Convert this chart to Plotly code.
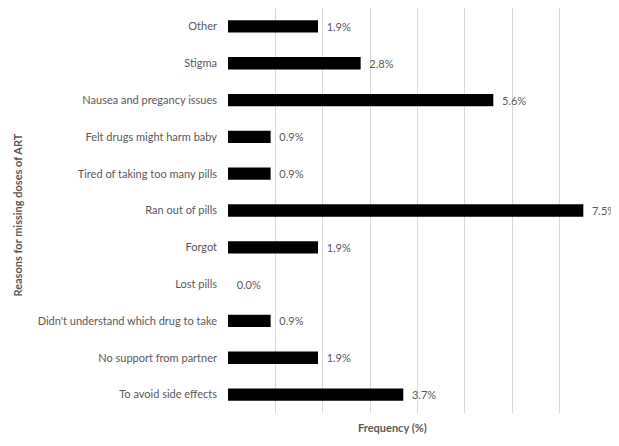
import plotly.graph_objects as go

# data (top to bottom as shown in the chart)
reasons = [
    "Other",
    "Stigma",
    "Nausea and pregancy issues",
    "Felt drugs might harm baby",
    "Tired of taking too many pills",
    "Ran out of pills",
    "Forgot",
    "Lost pills",
    "Didn't understand which drug to take",
    "No support from partner",
    "To avoid side effects",
]
freq = [1.9, 2.8, 5.6, 0.9, 0.9, 7.5, 1.9, 0.0, 0.9, 1.9, 3.7]

GREY = "#595959"
FONT = "Lato"

fig = go.Figure(go.Bar(
    x=freq, y=reasons, orientation="h",
    marker=dict(color="#000000", line=dict(width=0)),
    text=[f"\u00a0\u00a0{v:.1f}%" for v in freq],
    textposition="outside", cliponaxis=False, constraintext="none",
    textfont=dict(size=11, color=GREY, family=FONT),
    hovertemplate="%{y}: %{x:.1f}%<extra></extra>",
))

# page body adds an 8px offset, so margins are shifted by 8px
fig.update_layout(
    width=619, height=438,
    margin=dict(l=220, r=20, t=0, b=33, autoexpand=False),
    paper_bgcolor="white", plot_bgcolor="white",
    font=dict(family=FONT, size=11, color=GREY),
    bargap=0.665, showlegend=False,
)

fig.update_xaxes(
    range=[0, 8], dtick=1, showticklabels=False,
    showgrid=True, gridcolor="#d9d9d9", gridwidth=1,
    zeroline=False, showline=False, fixedrange=True, automargin=False,
)
fig.update_yaxes(
    categoryorder="array", categoryarray=reasons[::-1],
    showgrid=False, zeroline=False, showline=False, automargin=False,
    ticklabelstandoff=10, tickfont=dict(size=11, color=GREY),
)

# axis titles placed like the original
fig.add_annotation(text="<b>Frequency (%)</b>", xref="paper", yref="paper",
                   x=(384 - 220) / 379, y=-0.037, showarrow=False,
                   yanchor="middle", font=dict(size=11, color=GREY))
fig.add_annotation(text="<b>Reasons for missing doses of ART</b>", xref="paper", yref="paper",
                   x=-(220 - 10) / 379, y=0.49, textangle=-90, showarrow=False,
                   xanchor="center", yanchor="middle", font=dict(size=11, color=GREY))

fig.write_html("out.html")
